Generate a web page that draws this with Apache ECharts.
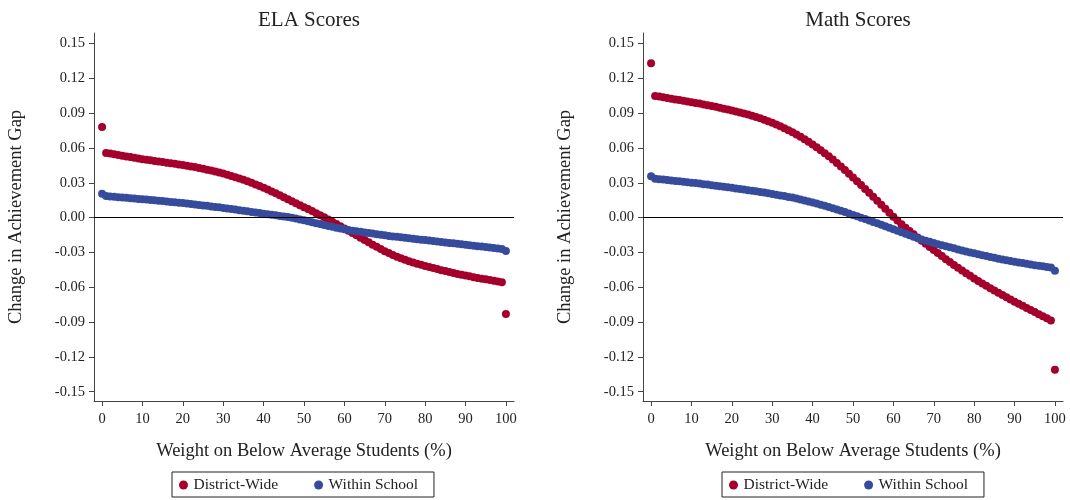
<!DOCTYPE html>
<html>
<head>
<meta charset="utf-8">
<script src="https://cdn.jsdelivr.net/npm/echarts@6/dist/echarts.min.js"></script>
<style>
html,body{margin:0;padding:0;background:#fff;}
#chart{width:1070px;height:500px;}
</style>
</head>
<body>
<div id="chart"></div>
<script>
const weights = [0,1,2,3,4,5,6,7,8,9,10,11,12,13,14,15,16,17,18,19,20,21,22,23,24,25,26,27,28,29,30,31,32,33,34,35,36,37,38,39,40,41,42,43,44,45,46,47,48,49,50,51,52,53,54,55,56,57,58,59,60,61,62,63,64,65,66,67,68,69,70,71,72,73,74,75,76,77,78,79,80,81,82,83,84,85,86,87,88,89,90,91,92,93,94,95,96,97,98,99,100];

const elaDistrict = [0.0780,0.0557,0.0551,0.0545,0.0539,0.0533,0.0527,0.0521,0.0515,0.0509,
0.0503,0.0498,0.0493,0.0488,0.0483,0.0478,0.0473,0.0468,0.0463,0.0458,
0.0453,0.0447,0.0441,0.0435,0.0428,0.0421,0.0413,0.0405,0.0397,0.0388,
0.0379,0.0369,0.0359,0.0348,0.0337,0.0325,0.0312,0.0299,0.0285,0.0271,
0.0256,0.0241,0.0225,0.0209,0.0192,0.0175,0.0158,0.0141,0.0124,0.0107,
0.0090,0.0073,0.0056,0.0038,0.0020,0.0002,-0.0017,-0.0036,-0.0055,-0.0074,
-0.0093,-0.0113,-0.0133,-0.0153,-0.0173,-0.0193,-0.0213,-0.0233,-0.0252,-0.0271,
-0.0289,-0.0306,-0.0322,-0.0337,-0.0351,-0.0364,-0.0376,-0.0387,-0.0397,-0.0407,
-0.0417,-0.0426,-0.0435,-0.0444,-0.0453,-0.0461,-0.0469,-0.0477,-0.0485,-0.0492,
-0.0499,-0.0506,-0.0513,-0.0520,-0.0526,-0.0532,-0.0538,-0.0544,-0.0550,-0.0556,
-0.0830];

const elaWithin = [0.0205,0.0185,0.0182,0.0179,0.0176,0.0173,0.0170,0.0167,0.0164,0.0161,
0.0158,0.0155,0.0152,0.0149,0.0146,0.0142,0.0139,0.0135,0.0132,0.0128,
0.0125,0.0121,0.0117,0.0113,0.0109,0.0105,0.0101,0.0096,0.0092,0.0088,
0.0083,0.0079,0.0074,0.0069,0.0064,0.0059,0.0054,0.0049,0.0044,0.0039,
0.0034,0.0029,0.0024,0.0019,0.0014,0.0009,0.0004,-0.0002,-0.0008,-0.0016,
-0.0024,-0.0032,-0.0040,-0.0048,-0.0056,-0.0064,-0.0072,-0.0080,-0.0088,-0.0095,
-0.0101,-0.0107,-0.0113,-0.0118,-0.0123,-0.0128,-0.0133,-0.0138,-0.0143,-0.0148,
-0.0153,-0.0158,-0.0162,-0.0166,-0.0170,-0.0174,-0.0178,-0.0182,-0.0186,-0.0190,
-0.0194,-0.0198,-0.0202,-0.0206,-0.0210,-0.0214,-0.0218,-0.0222,-0.0226,-0.0230,
-0.0234,-0.0238,-0.0242,-0.0246,-0.0250,-0.0254,-0.0258,-0.0262,-0.0266,-0.0270,
-0.0287];

const mathDistrict = [0.1330,0.1048,0.1042,0.1036,0.1030,0.1024,0.1018,0.1012,0.1006,0.1000,
0.0994,0.0988,0.0982,0.0975,0.0968,0.0961,0.0954,0.0946,0.0938,0.0930,
0.0922,0.0914,0.0906,0.0897,0.0888,0.0878,0.0867,0.0855,0.0843,0.0830,
0.0816,0.0801,0.0786,0.0770,0.0753,0.0735,0.0716,0.0696,0.0675,0.0653,
0.0630,0.0606,0.0581,0.0555,0.0528,0.0500,0.0471,0.0441,0.0410,0.0378,
0.0346,0.0313,0.0280,0.0247,0.0213,0.0179,0.0145,0.0111,0.0076,0.0041,
0.0007,-0.0026,-0.0057,-0.0087,-0.0116,-0.0144,-0.0172,-0.0199,-0.0226,-0.0253,
-0.0280,-0.0306,-0.0332,-0.0358,-0.0383,-0.0408,-0.0432,-0.0456,-0.0479,-0.0502,
-0.0524,-0.0546,-0.0567,-0.0588,-0.0608,-0.0628,-0.0648,-0.0667,-0.0686,-0.0705,
-0.0724,-0.0742,-0.0760,-0.0778,-0.0796,-0.0814,-0.0832,-0.0850,-0.0868,-0.0886,
-0.1310];

const mathWithin = [0.0356,0.0335,0.0331,0.0327,0.0323,0.0319,0.0316,0.0312,0.0308,0.0305,
0.0301,0.0297,0.0293,0.0288,0.0284,0.0279,0.0275,0.0270,0.0266,0.0261,
0.0256,0.0251,0.0246,0.0241,0.0236,0.0231,0.0226,0.0220,0.0215,0.0209,
0.0203,0.0197,0.0191,0.0185,0.0178,0.0172,0.0164,0.0156,0.0148,0.0139,
0.0130,0.0121,0.0111,0.0101,0.0091,0.0080,0.0069,0.0058,0.0047,0.0035,
0.0023,0.0011,-0.0001,-0.0013,-0.0025,-0.0037,-0.0049,-0.0062,-0.0075,-0.0088,
-0.0101,-0.0114,-0.0127,-0.0140,-0.0153,-0.0165,-0.0177,-0.0188,-0.0199,-0.0209,
-0.0219,-0.0229,-0.0238,-0.0247,-0.0256,-0.0265,-0.0274,-0.0283,-0.0292,-0.0300,
-0.0308,-0.0316,-0.0324,-0.0332,-0.0340,-0.0347,-0.0354,-0.0361,-0.0368,-0.0374,
-0.0380,-0.0386,-0.0392,-0.0398,-0.0404,-0.0410,-0.0415,-0.0420,-0.0425,-0.0430,
-0.0459];

const xTicks = [0,10,20,30,40,50,60,70,80,90,100];
const yTicks = [-0.15,-0.12,-0.09,-0.06,-0.03,0,0.03,0.06,0.09,0.12,0.15];
const panelTitles = ['ELA Scores','Math Scores'];
const seriesNames = ['District-Wide','Within School'];
const xName = 'Weight on Below Average Students (%)';
const yName = 'Change in Achievement Gap';

const FONT = 'Liberation Serif';
const RED = '#A4002B';
const BLUE = '#364B9C';
const AX = '#444';

function pairs(vals){ return weights.map((w,i)=>[w, vals[i]]); }

function xAxisCfg(gi){
  return {
    type:'value', gridIndex:gi, min:-2, max:102,
    name:xName, nameLocation:'middle', nameGap:41,
    nameTextStyle:{fontFamily:FONT, fontSize:18.5, color:'#222'},
    axisLine:{show:true, onZero:false, lineStyle:{color:AX, width:1}},
    axisTick:{show:true, customValues:xTicks, length:5, lineStyle:{color:AX}},
    axisLabel:{customValues:xTicks, margin:11, fontFamily:FONT, fontSize:14.5, color:'#222'},
    splitLine:{show:false}
  };
}
function yAxisCfg(gi){
  return {
    type:'value', gridIndex:gi, min:-0.158, max:0.159,
    name:yName, nameLocation:'middle', nameGap:68, nameRotate:90,
    nameTextStyle:{fontFamily:FONT, fontSize:18.5, color:'#222'},
    axisLine:{show:true, onZero:false, lineStyle:{color:AX, width:1}},
    axisTick:{show:true, customValues:yTicks, length:5, lineStyle:{color:AX}},
    axisLabel:{customValues:yTicks, margin:9, fontFamily:FONT, fontSize:14.5, color:'#222',
      formatter:(v)=>v.toFixed(2)},
    splitLine:{show:false}
  };
}
function scatter(name, gi, vals, color, withZero){
  const s = {
    name:name, type:'scatter', xAxisIndex:gi, yAxisIndex:gi,
    data:pairs(vals), symbol:'circle', symbolSize:8,
    itemStyle:{color:color, opacity:1}, silent:true, animation:false
  };
  if(withZero){
    s.markLine = {silent:true, symbol:['none','none'], label:{show:false},
      lineStyle:{color:'#000', type:'solid', width:1.2},
      data:[{yAxis:0}], animation:false};
  }
  return s;
}
function legendCfg(left){
  return {
    left:left, top:472, orient:'horizontal',
    data:seriesNames, icon:'circle', itemWidth:10, itemHeight:9, itemGap:36,
    borderColor:'#222', borderWidth:1, borderRadius:0, padding:[5,16,4,7],
    textStyle:{fontFamily:FONT, fontSize:15.5, color:'#222'},
    selectedMode:false
  };
}

const chart = echarts.init(document.getElementById('chart'), null, {renderer:'canvas'});
chart.setOption({
  backgroundColor:'#fff',
  animation:false,
  title:[
    {text:panelTitles[0], left:304, top:5, textAlign:'center',
     textStyle:{fontFamily:FONT, fontSize:21, fontWeight:'normal', color:'#222'}},
    {text:panelTitles[1], left:853, top:5, textAlign:'center',
     textStyle:{fontFamily:FONT, fontSize:21, fontWeight:'normal', color:'#222'}}
  ],
  legend:[legendCfg(172), legendCfg(722)],
  grid:[
    {left:94, top:33, width:420, height:368},
    {left:643, top:33, width:420, height:368}
  ],
  xAxis:[xAxisCfg(0), xAxisCfg(1)],
  yAxis:[yAxisCfg(0), yAxisCfg(1)],
  series:[
    scatter(seriesNames[0], 0, elaDistrict, RED, true),
    scatter(seriesNames[1], 0, elaWithin, BLUE, false),
    scatter(seriesNames[0], 1, mathDistrict, RED, true),
    scatter(seriesNames[1], 1, mathWithin, BLUE, false)
  ]
});
</script>
</body>
</html>
